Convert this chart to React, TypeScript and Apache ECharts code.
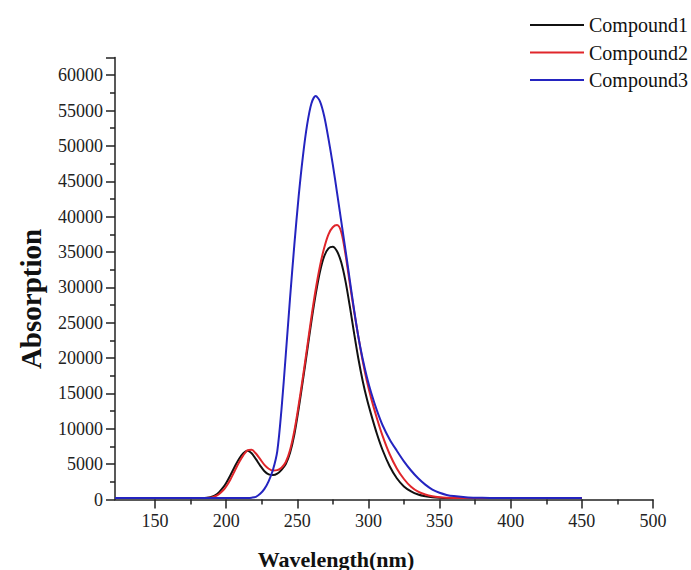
import React, { useEffect, useRef } from "react";
import * as echarts from "echarts";

const wavelengths = [
  122, 150, 170, 180, 185, 188, 190, 192, 195, 198, 200, 203, 206, 209, 212, 215, 218, 221, 224, 227,
  230, 233, 236, 239, 242, 245, 248, 251, 254, 257, 260, 263, 266, 269, 272, 275, 278, 281, 284, 287,
  290, 293, 296, 299, 302, 306, 310, 315, 320, 325, 330, 335, 340, 345, 350, 355, 360, 370, 380, 390,
  400, 420, 450,
];

const compound1 = [
  200, 200, 200, 200, 220, 280, 380, 560, 1000, 1700, 2300, 3400, 4600, 5700, 6500, 6900, 6550, 5700, 4800, 4000,
  3550, 3450, 3650, 4200, 5000, 6600, 9200, 12800, 16800, 21000, 25200, 29000, 32200, 34400, 35500, 35750, 35100, 33500, 30800, 27300,
  23500, 19900, 16800, 14200, 12000, 9300, 7000, 4700, 3000, 1850, 1150, 700, 450, 300, 230, 200, 200, 200, 200, 200,
  200, 200, 200,
];

const compound2 = [
  200, 200, 200, 200, 200, 240, 300, 420, 750, 1300, 1800, 2800, 4000, 5200, 6200, 6950, 7050, 6500, 5700, 4900,
  4350, 4100, 4150, 4500, 5300, 7000, 9700, 13300, 17300, 21500, 25800, 29700, 33000, 35600, 37500, 38500, 38800, 37800, 34600, 30500,
  26600, 23000, 19600, 16700, 14300, 11500, 9000, 6400, 4400, 2900, 1800, 1100, 700, 450, 320, 250, 220, 200, 200, 200,
  200, 200, 200,
];

const compound3 = [
  200, 200, 200, 200, 200, 200, 200, 200, 200, 200, 200, 200, 200, 200, 200, 210, 260, 380, 800, 1500,
  2600, 4200, 6800, 12800, 20500, 28500, 36000, 42800, 48500, 53000, 56000, 57050, 56300, 54200, 51000, 47400, 43400, 39300, 35200, 31000,
  26800, 23000, 19900, 17300, 15100, 12600, 10500, 8500, 6900, 5400, 4100, 3000, 2100, 1400, 950, 650, 480, 300, 230, 200,
  200, 200, 200,
];

const seriesNames = ["Compound1", "Compound2", "Compound3"];
const seriesColors = ["#111111", "#e0262b", "#2424c0"];
const xTitle = "Wavelength(nm)";
const yTitle = "Absorption";

const FONT = "'Liberation Serif', 'Times New Roman', serif";

export default function App() {
  const ref = useRef<HTMLDivElement>(null);
  useEffect(() => {
    if (!ref.current) return;
    const chart = echarts.init(ref.current, undefined, { renderer: "svg" });
    const dataSets = [compound1, compound2, compound3];
    const tickLine = { color: "#222", width: 1.5 };
    chart.setOption({
      animation: false,
      backgroundColor: "#ffffff",
      textStyle: { fontFamily: FONT },
      grid: [
        { left: 115, right: 38, top: 57.5, bottom: 70.5 },
        { left: 155, right: 38, top: 57.5, bottom: 70.5 },
      ],
      xAxis: [
        {
          type: "value",
          gridIndex: 0,
          min: 122,
          max: 500,
          axisLine: { show: true, lineStyle: tickLine },
          axisTick: { show: false },
          axisLabel: { show: false },
          splitLine: { show: false },
        },
        {
          type: "value",
          gridIndex: 1,
          min: 150,
          max: 500,
          interval: 50,
          axisLine: { show: false },
          axisTick: { show: true, length: 9, lineStyle: tickLine },
          minorTick: { show: true, splitNumber: 2, length: 5, lineStyle: tickLine },
          axisLabel: { margin: 12, fontSize: 18, color: "#222", fontFamily: FONT },
          splitLine: { show: false },
          minorSplitLine: { show: false },
        },
      ],
      yAxis: [
        {
          type: "value",
          gridIndex: 0,
          min: 0,
          max: 62500,
          interval: 5000,
          axisLine: { show: true, lineStyle: tickLine },
          axisTick: { show: true, length: 9, lineStyle: tickLine },
          minorTick: { show: true, splitNumber: 2, length: 5, lineStyle: tickLine },
          axisLabel: {
            margin: 12,
            fontSize: 18,
            color: "#222",
            fontFamily: FONT,
            formatter: (v: number) => (v % 5000 === 0 && v <= 60000 ? String(v) : ""),
          },
          splitLine: { show: false },
          minorSplitLine: { show: false },
        },
        { type: "value", gridIndex: 1, show: false, min: 0, max: 62500 },
      ],
      legend: {
        orient: "vertical",
        left: 525,
        top: 10,
        icon: "rect",
        itemWidth: 54,
        itemHeight: 2,
        itemGap: 7.5,
        textStyle: { fontSize: 20, color: "#111", fontFamily: FONT },
        data: seriesNames,
      },
      graphic: [
        {
          type: "text",
          x: 336,
          y: 559,
          style: {
            text: xTitle,
            font: `bold 22px ${FONT}`,
            fill: "#111",
            align: "center",
            verticalAlign: "middle",
          },
        },
        {
          type: "text",
          x: 31,
          y: 299,
          rotation: Math.PI / 2,
          style: {
            text: yTitle,
            font: `bold 29px ${FONT}`,
            fill: "#111",
            align: "center",
            verticalAlign: "middle",
          },
        },
      ],
      series: dataSets.map((vals, i) => ({
        name: seriesNames[i],
        type: "line",
        xAxisIndex: 0,
        yAxisIndex: 0,
        symbol: "none",
        smooth: 0.3,
        lineStyle: { color: seriesColors[i], width: 2 },
        itemStyle: { color: seriesColors[i] },
        data: wavelengths.map((w, j) => [w, vals[j]]),
      })),
    });
    return () => chart.dispose();
  }, []);
  return (
    <div
      ref={ref}
      style={{ position: "fixed", left: 0, top: 0, width: 691, height: 570 }}
    />
  );
}
